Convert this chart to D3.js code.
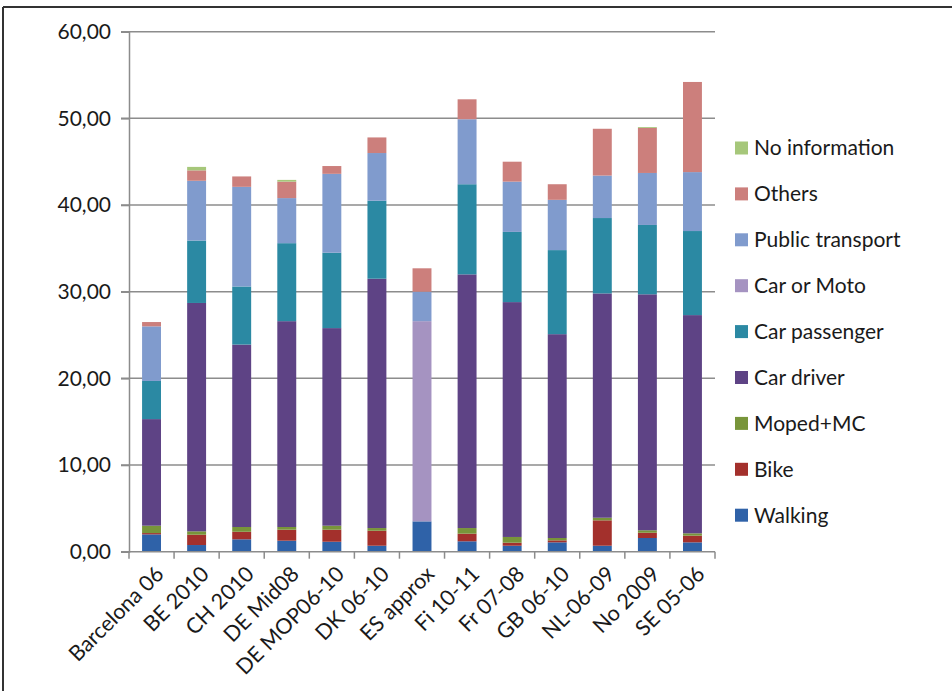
<!DOCTYPE html>
<html>
<head>
<meta charset="utf-8">
<script src="https://cdn.jsdelivr.net/npm/d3@7"></script>
<style>
  body { margin: 0; background: #fff; }
  svg { display: block; font-family: Lato, "Open Sans", sans-serif; }
</style>
</head>
<body>
<svg id="chart" width="952" height="691"></svg>
<script>
const categories = ["Barcelona 06", "BE 2010", "CH 2010", "DE Mid08", "DE MOP06-10", "DK 06-10",
  "ES approx", "Fi 10-11", "Fr 07-08", "GB 06-10", "NL-06-09", "No 2009", "SE 05-06"];

const modes = ["Walking", "Bike", "Moped+MC", "Car driver", "Car passenger", "Car or Moto",
  "Public transport", "Others", "No information"];

// values per mode, one per category
const walking      = [2.00, 0.77, 1.43, 1.27, 1.15, 0.69, 3.50, 1.20, 0.69, 1.08, 0.69, 1.58, 1.08];
const bike         = [0.15, 1.19, 0.87, 1.27, 1.39, 1.73, 0.00, 0.88, 0.35, 0.23, 2.93, 0.61, 0.77];
const moped        = [0.85, 0.39, 0.55, 0.31, 0.46, 0.31, 0.00, 0.65, 0.66, 0.27, 0.30, 0.28, 0.27];
const carDriver    = [12.30, 26.35, 21.05, 23.75, 22.80, 28.77, 0.00, 29.27, 27.10, 23.52, 25.88, 27.23, 25.18];
const carPassenger = [4.40, 7.20, 6.70, 9.00, 8.70, 9.00, 0.00, 10.40, 8.10, 9.70, 8.70, 8.00, 9.70];
const carOrMoto    = [0, 0, 0, 0, 0, 0, 23.10, 0, 0, 0, 0, 0, 0];
const publicTrans  = [6.30, 6.90, 11.50, 5.20, 9.10, 5.50, 3.40, 7.50, 5.80, 5.80, 4.90, 6.00, 6.80];
const others       = [0.50, 1.20, 1.20, 1.90, 0.90, 1.80, 2.70, 2.30, 2.30, 1.80, 5.40, 5.20, 10.40];
const noInfo       = [0, 0.40, 0, 0.20, 0, 0, 0, 0, 0, 0, 0, 0.10, 0];

const yTicks = [0, 10, 20, 30, 40, 50, 60];

const colors = ["#2f62a8", "#a3302c", "#78953a", "#5e4385", "#2b89a3", "#a593c1",
  "#809bcd", "#cc7f7c", "#a6c77a"];

const series = [walking, bike, moped, carDriver, carPassenger, carOrMoto, publicTrans, others, noInfo];

const rows = categories.map((c, i) => {
  const r = { cat: c };
  modes.forEach((m, k) => r[m] = series[k][i]);
  return r;
});

const stacked = d3.stack().keys(modes)(rows);

const svg = d3.select("#chart");

// frame
svg.append("line").attr("x1", 3).attr("x2", 952).attr("y1", 7).attr("y2", 7)
  .attr("stroke", "#333").attr("stroke-width", 2);
svg.append("line").attr("x1", 3).attr("x2", 3).attr("y1", 7).attr("y2", 691)
  .attr("stroke", "#333").attr("stroke-width", 2);

const plotLeft = 129, plotRight = 715, plotTop = 31.7, plotBottom = 551.7;

const x = d3.scaleBand().domain(categories).range([plotLeft, plotRight]).paddingInner(0.58).paddingOuter(0.29);
const y = d3.scaleLinear().domain([0, 60]).range([plotBottom, plotTop]);

// grid
svg.append("g").selectAll("line").data(yTicks.filter(d => d > 0)).join("line")
  .attr("x1", plotLeft - 8).attr("x2", plotRight)
  .attr("y1", d => y(d)).attr("y2", d => y(d))
  .attr("stroke", "#8c8c8c").attr("stroke-width", 1.5);

// bars
svg.append("g").selectAll("g").data(stacked).join("g")
  .attr("fill", (d, i) => colors[i])
  .selectAll("rect").data(d => d).join("rect")
  .attr("x", d => x(d.data.cat))
  .attr("width", x.bandwidth())
  .attr("y", d => y(d[1]))
  .attr("height", d => Math.max(0, y(d[0]) - y(d[1])));

// y axis
const yAxis = svg.append("g").attr("transform", `translate(${plotLeft},0)`)
  .call(d3.axisLeft(y).tickValues(yTicks).tickSize(8).tickPadding(10)
    .tickFormat(d => d3.format(".2f")(d).replace(".", ",")));
yAxis.select(".domain").attr("stroke", "#8c8c8c").attr("stroke-width", 1.5);
yAxis.selectAll(".tick line").attr("stroke", "#8c8c8c").attr("stroke-width", 1.5);
yAxis.selectAll("text").attr("font-size", 21).attr("fill", "#1a1a1a")
  .attr("font-family", "Lato, sans-serif");

// x axis
const step = x.step();
svg.append("line").attr("x1", plotLeft - 8).attr("x2", plotRight).attr("y1", plotBottom).attr("y2", plotBottom)
  .attr("stroke", "#8c8c8c").attr("stroke-width", 1.5);
svg.append("g").selectAll("line").data(d3.range(categories.length + 1)).join("line")
  .attr("x1", i => plotLeft + i * step).attr("x2", i => plotLeft + i * step)
  .attr("y1", plotBottom).attr("y2", plotBottom + 7)
  .attr("stroke", "#8c8c8c").attr("stroke-width", 1.5);

svg.append("g").selectAll("text").data(categories).join("text")
  .attr("transform", d => `translate(${x(d) + x.bandwidth() / 2 + 3},${plotBottom + 13}) rotate(-45)`)
  .attr("text-anchor", "end")
  .attr("dy", "0.7em")
  .attr("font-size", 21.5)
  .attr("fill", "#1a1a1a")
  .text(d => d);

// legend (top-down reversed)
const legendItems = modes.slice().reverse();
const legend = svg.append("g").selectAll("g").data(legendItems).join("g")
  .attr("transform", (d, i) => `translate(735,${148 + i * 45.9})`);
legend.append("rect").attr("x", 0).attr("y", -6.5).attr("width", 13).attr("height", 13)
  .attr("fill", d => colors[modes.indexOf(d)]);
legend.append("text").attr("x", 19).attr("dy", "0.35em")
  .attr("font-size", 21).attr("fill", "#1a1a1a")
  .text(d => d);
</script>
</body>
</html>
